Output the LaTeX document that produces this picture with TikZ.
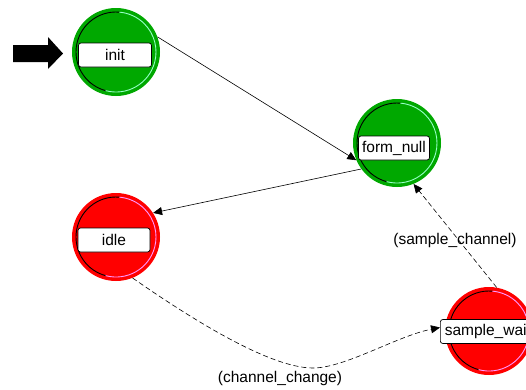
\documentclass[tikz,border=0pt]{standalone}
\usepackage{fontspec}
\setmainfont{Liberation Sans}
\usetikzlibrary{arrows.meta}
\definecolor{stgreen}{RGB}{0,168,0}
\definecolor{stred}{RGB}{255,0,0}
\definecolor{lightgreen}{RGB}{150,255,200}
\definecolor{lightred}{RGB}{255,150,255}
\newcommand\stbevel[2]{%
  \draw[black, line width=0.9pt] ([shift={(85:40)}]#1.center) arc (85:255:40);
  \draw[#2, line width=0.9pt] ([shift={(255:40)}]#1.center) arc (255:445:40);
}
\begin{document}
\begin{tikzpicture}[x=1pt,y=1pt,
  state/.style={circle, minimum size=88pt, inner sep=0pt, draw=none},
  lbl/.style={draw=black, line width=0.7pt, fill=white, rounded corners=2.5pt, inner sep=2pt,
    minimum height=24pt, font=\fontsize{15.5}{18}\selectfont},
  tr/.style={font=\fontsize{15.5}{18}\selectfont, inner sep=0pt},
  arr/.style={line width=0.6pt, -{Triangle[length=9pt,width=8pt]}},
  dsh/.style={arr, dash pattern=on 5pt off 3pt}]
\useasboundingbox (0,0) rectangle (526,-389);
\clip (0,0) rectangle (526,-389);
% states
\node[state, fill=stgreen] (init) at (116,-52) {};
\node[state, fill=stgreen] (formnull) at (397,-143) {};
\node[state, fill=stred] (idle) at (116,-237) {};
\node[state, fill=stred] (samplewait) at (489,-331) {};
\stbevel{init}{lightgreen}
\stbevel{formnull}{lightgreen}
\stbevel{idle}{lightred}
\stbevel{samplewait}{lightred}
% labels
\node[lbl, minimum width=73pt] (initbox) at (115,-55) {init};
\node[lbl, minimum width=71pt] (formnullbox) at (394,-148) {form\_null};
\node[lbl, minimum width=72pt] (idlebox) at (114,-240) {idle};
\node[lbl, anchor=west, minimum width=95pt] (swbox) at (440,-331.5) {sample\_wait};
% initial arrow
\fill[black] (13,-45) -- (48,-45) -- (48,-37) -- (63,-53.5) -- (48,-69) -- (48,-62) -- (13,-62) -- cycle;
% transitions
\draw[arr] (init.20) -- (formnull.203);
\draw[arr] (formnull.216) -- (idle.33);
\draw[dsh] (samplewait.80) -- (formnull.292);
\coordinate (ccbottom) at (313,-368);
\draw[dsh] (idle.292) .. controls (193,-320) and (270,-368) .. (ccbottom)
  .. controls (345,-368) and (397,-336) .. ([yshift=4pt]swbox.west);
\node[tr] (lblsc) at (455,-240) {(sample\_channel)};
\node[tr] (lblcc) at (280,-378) {(channel\_change)};
\end{tikzpicture}
\end{document}
